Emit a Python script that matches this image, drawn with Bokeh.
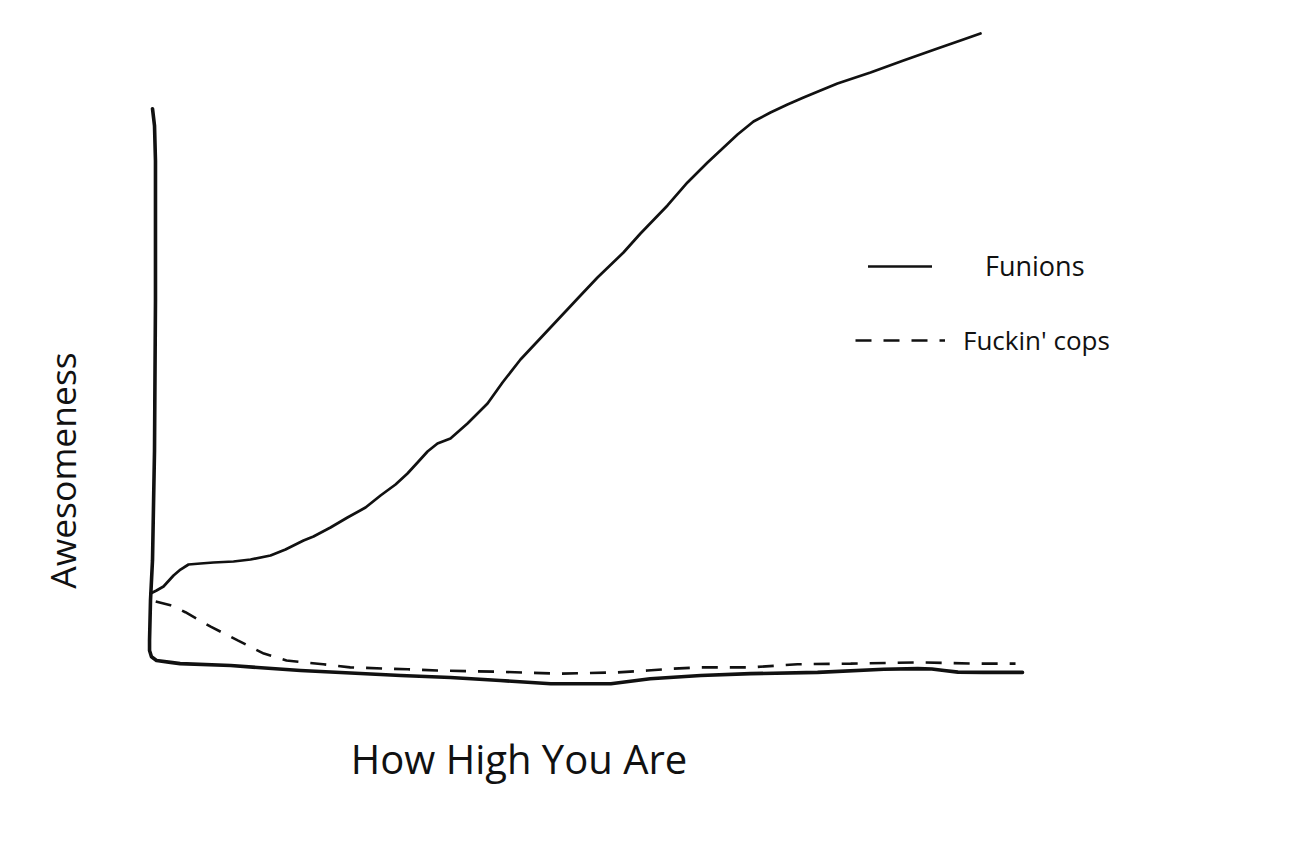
from bokeh.plotting import figure
from bokeh.models import Range1d, Label, Legend, LegendItem
from bokeh.embed import file_html
from bokeh.resources import INLINE
import math

# ---- data (How High You Are -> Awesomeness) ----
funions_x = [0.0, 0.69, 1.49, 2.64, 3.44, 4.36, 5.73, 7.22, 9.52, 11.47, 13.76, 15.48, 17.55,
             18.69, 20.64, 22.59, 24.66, 26.38, 28.10, 29.47, 30.73, 31.77, 32.91, 34.40,
             36.35, 38.65, 40.37, 42.43, 45.87, 49.31, 51.26, 54.24, 56.19, 59.29, 61.58,
             63.88, 65.60, 67.32, 69.15, 71.10, 73.05, 74.89, 76.83, 78.78, 82.57, 86.35,
             90.25, 92.89, 95.18]
funions_y = [10.69, 11.16, 11.80, 13.56, 14.51, 15.31, 15.47, 15.63, 15.79, 16.11, 16.75, 17.70,
             19.14, 19.78, 21.21, 22.81, 24.40, 26.32, 28.07, 29.82, 31.74, 33.33, 34.61,
             35.41, 37.80, 40.99, 44.34, 48.01, 53.11, 58.21, 61.08, 65.07, 68.10, 72.57,
             76.24, 79.43, 81.66, 83.89, 85.96, 87.40, 88.68, 89.79, 90.91, 92.03, 93.78,
             95.69, 97.61, 98.88, 100.0]

cops_x = [0.6, 2.3, 4.0, 6.9, 10.0, 13.0, 15.6, 19.8, 22.9, 29.5, 32.9, 40.1, 47.0, 53.6,
          57.0, 60.0, 63.1, 68.8, 74.2, 80.3, 88.0, 95.0, 99.2]
cops_y = [9.4, 8.8, 7.7, 5.4, 3.2, 1.1, 0.0, -0.6, -1.1, -1.4, -1.6, -1.8, -2.1, -1.9,
          -1.6, -1.3, -1.1, -1.1, -0.6, -0.5, -0.3, -0.5, -0.5]

# hand-drawn axes (left axis down to the corner, then along the bottom)
axis_x = [0.23, 0.46, 0.57, 0.57, 0.46, 0.23, 0.0, -0.11, -0.11, 0.11, 0.69, 2.3, 3.4, 9.2,
          17.2, 28.7, 34.4, 40.1, 45.9, 52.8, 57.3, 63.1, 68.8, 76.5, 84.1, 88.0, 89.6,
          91.0, 92.6, 95.5, 100.0]
axis_y = [88.0, 85.3, 79.7, 57.4, 33.5, 16.0, 9.6, 3.2, 1.6, 0.6, 0.0, -0.3, -0.5, -0.8,
          -1.6, -2.4, -2.7, -3.2, -3.7, -3.7, -2.9, -2.4, -2.1, -1.9, -1.4, -1.3, -1.35,
          -1.6, -1.85, -1.9, -1.9]

series_names = ["Funions", "Fuckin' cops"]
x_title = "How High You Are"
y_title = "Awesomeness"

FONT = "Open Sans"
INK = "#111111"

p = figure(width=1289, height=831, output_backend="svg", toolbar_location=None,
           x_axis_location=None, y_axis_location=None,
           x_range=Range1d(-17.202, 130.619), y_range=Range1d(-27.273, 105.263),
           min_border=0, outline_line_color=None,
           background_fill_color="white", border_fill_color="white")
p.grid.visible = False

p.line(axis_x, axis_y, line_color=INK, line_width=3.6, line_join="round", line_cap="round")
r_fun = p.line(funions_x, funions_y, line_color=INK, line_width=2.7,
               line_join="round", line_cap="round")
r_cops = p.line(cops_x, cops_y, line_color=INK, line_width=2.6, line_dash="16 12")

leg1 = Legend(items=[LegendItem(label=series_names[0], renderers=[r_fun])],
              location=(868, 547), glyph_width=64, glyph_height=30, label_height=30,
              label_standoff=53, padding=0, margin=0, border_line_alpha=0,
              background_fill_alpha=0, label_text_font=FONT, label_text_font_size="27px",
              label_text_color=INK)
leg2 = Legend(items=[LegendItem(label=series_names[1], renderers=[r_cops])],
              location=(855, 473), glyph_width=90, glyph_height=30, label_height=30,
              label_standoff=18, padding=0, margin=0, border_line_alpha=0,
              background_fill_alpha=0, label_text_font=FONT, label_text_font_size="26px",
              label_text_color=INK)
p.add_layout(leg1)
p.add_layout(leg2)

p.add_layout(Label(x=42.26, y=-15.6, text=x_title, text_align="center",
                   text_baseline="alphabetic", text_font=FONT, text_font_size="40px",
                   text_color=INK))
p.add_layout(Label(x=-10.2, y=30.3, text=y_title, angle=math.pi / 2,
                   text_align="center", text_baseline="middle", text_font=FONT,
                   text_font_size="35.5px", text_color=INK))

open("out.html", "w").write(file_html(p, INLINE))
